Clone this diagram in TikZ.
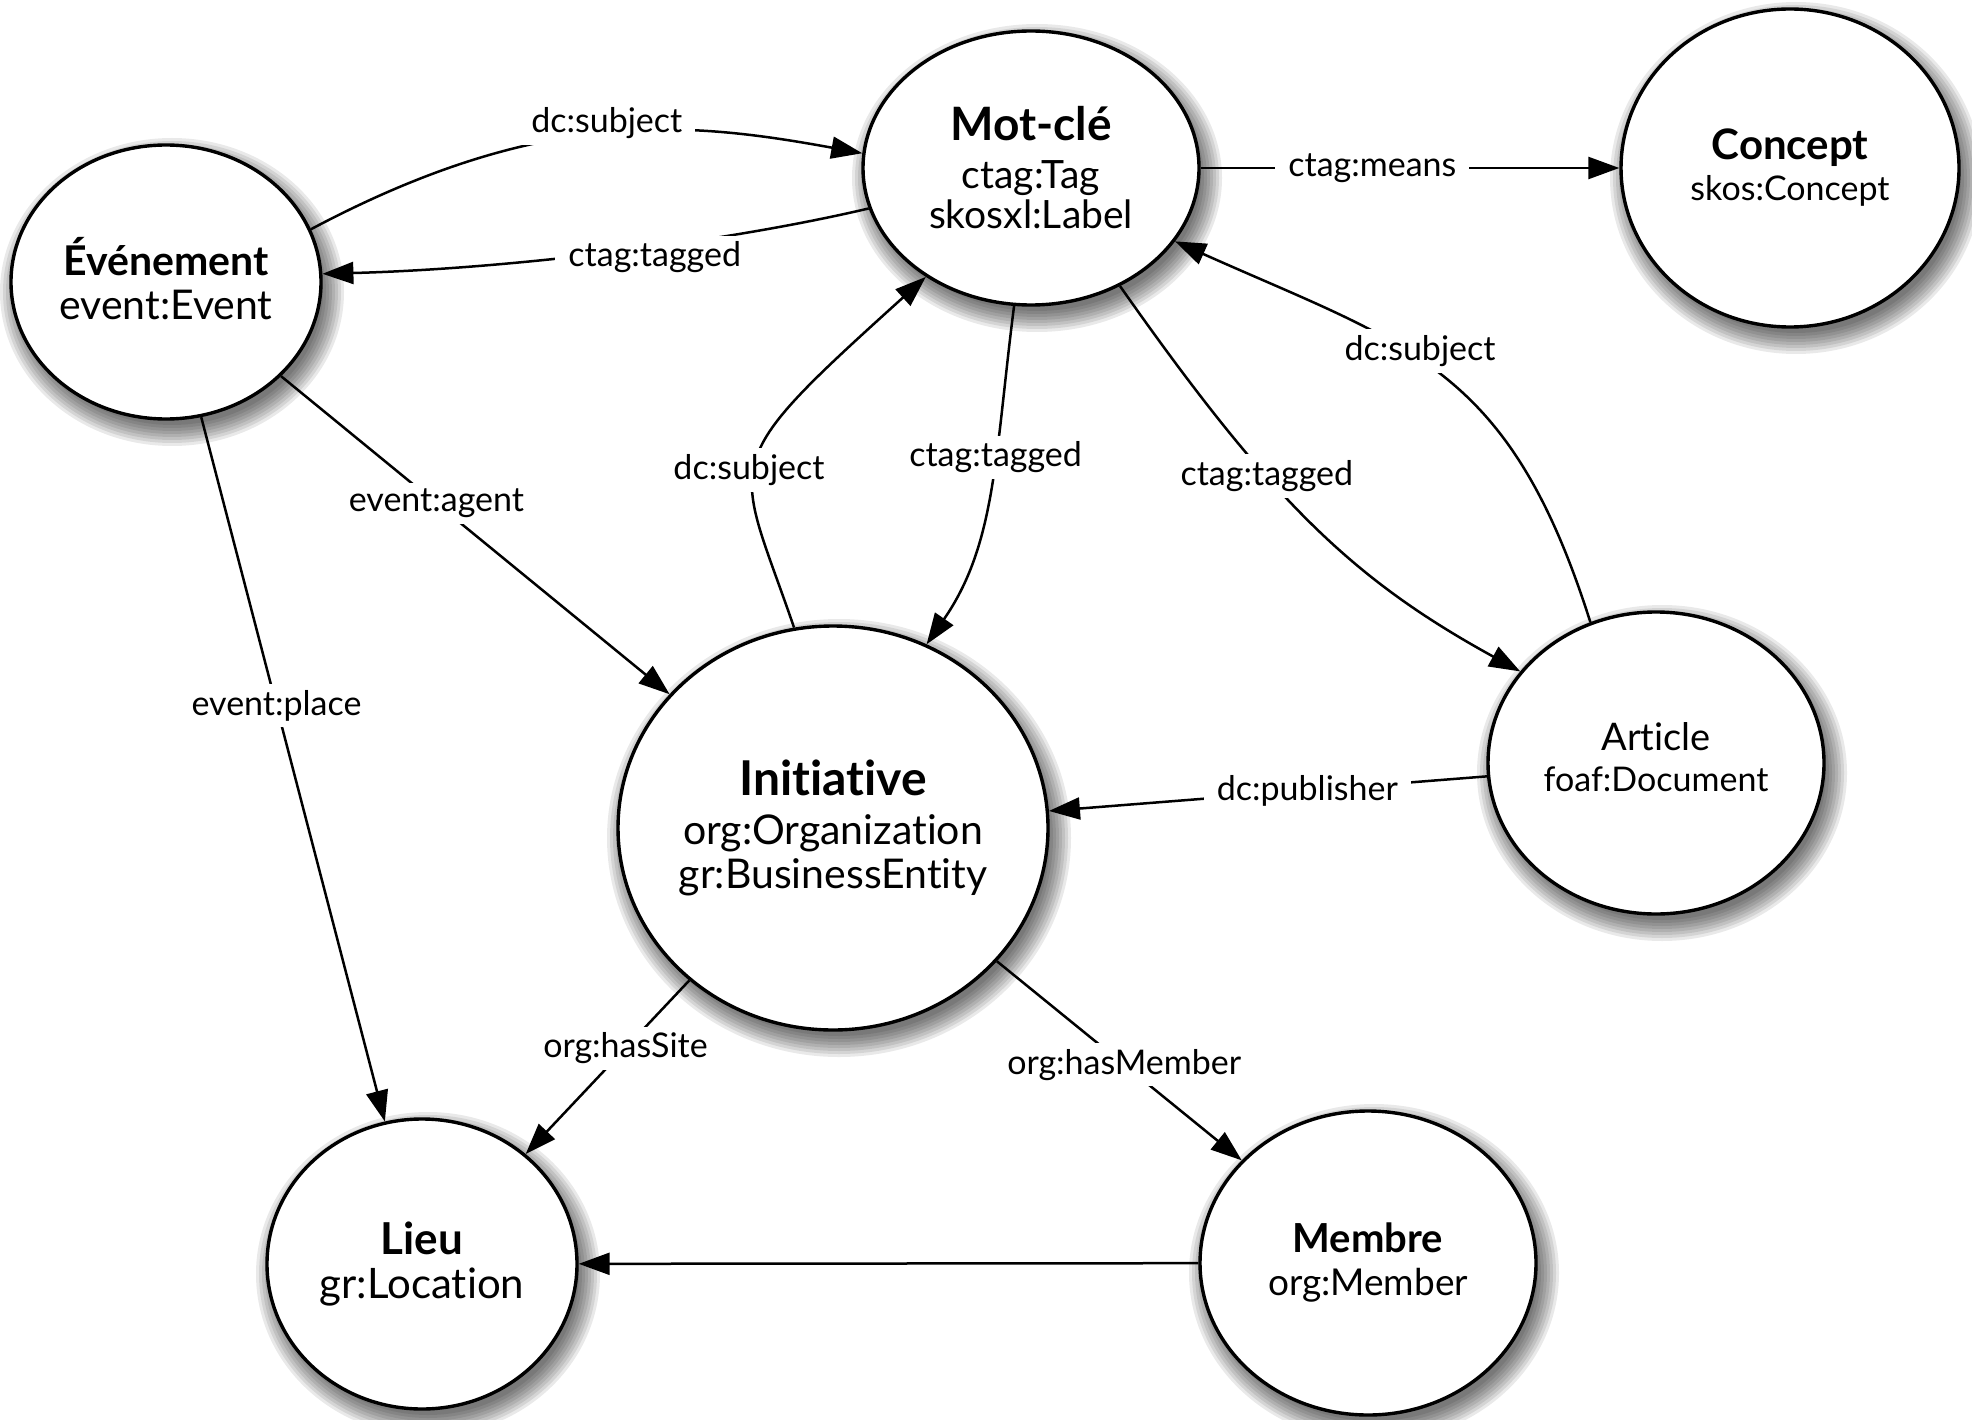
\documentclass[tikz,border=0pt]{standalone}
\usepackage{fontspec}
\setmainfont{Lato}[Ligatures=NoCommon]
\usetikzlibrary{arrows.meta,shapes.geometric}
\newcommand\softshadow[4]{%
  \foreach \d in {-4,-1,...,17}{\fill[black,opacity=0.085] (#1+6,#2+10) ellipse [x radius={(#3+\d)*1pt}, y radius={(#4+\d)*1pt}];}}
\begin{document}
\begin{tikzpicture}[x=1pt,y=-1pt,
  ent/.style={ellipse, draw, line width=3.4pt, fill=white, inner sep=-20pt, align=center},
  edge/.style={line width=2.5pt, -{Triangle[length=31pt,width=22pt]}},
  lbl/.style={fill=white, inner xsep=13pt, inner ysep=6pt, font=\fontsize{34}{40}\selectfont}]
\fill[white] (0,0) rectangle (1972,1420);
\useasboundingbox (0,0) rectangle (1972,1420);
% shadows
\softshadow{1031}{168}{168}{137}
\softshadow{1790}{168}{169}{159}
\softshadow{166}{282}{155}{137}
\softshadow{833}{828}{215}{202}
\softshadow{1656}{763}{168}{151}
\softshadow{422}{1264}{155}{145}
\softshadow{1368}{1263}{168}{152}
% nodes
\node[ent, minimum width=336pt, minimum height=274pt, font=\fontsize{39}{40}\selectfont] (mot) at (1031,168)
  {{\fontsize{46}{46}\selectfont\bfseries Mot-clé}\\[8pt]ctag:Tag\\skosxl:Label};
\node[ent, minimum width=338pt, minimum height=318pt, font=\fontsize{34}{41}\selectfont] (con) at (1790,168)
  {{\fontsize{42}{42}\selectfont\bfseries Concept}\\skos:Concept};
\node[ent, minimum width=310pt, minimum height=274pt, font=\fontsize{41}{44}\selectfont] (ev) at (166,282)
  {{\fontsize{41}{41}\selectfont\bfseries Événement}\\event:Event\rule[-8pt]{0pt}{8pt}};
\node[ent, minimum width=430pt, minimum height=404pt, font=\fontsize{41}{44}\selectfont] (ini) at (833,828)
  {{\fontsize{48}{48}\selectfont\bfseries Initiative}\\[5pt]org:Organization\\gr:BusinessEntity};
\node[ent, minimum width=336pt, minimum height=302pt, font=\fontsize{34}{40}\selectfont] (art) at (1656,763)
  {{\fontsize{38}{38}\selectfont Article}\\foaf:Document\rule[-12pt]{0pt}{12pt}};
\node[ent, minimum width=310pt, minimum height=290pt, font=\fontsize{42}{44}\selectfont] (lieu) at (422,1264)
  {{\fontsize{44}{44}\selectfont\bfseries Lieu}\\gr:Location};
\node[ent, minimum width=336pt, minimum height=304pt, font=\fontsize{37}{43}\selectfont] (mem) at (1368,1263)
  {{\fontsize{40}{40}\selectfont\bfseries Membre}\\org:Member};
% edges
\draw[edge] (ev.20) .. controls (541,107) and (686,121) .. node[lbl,pos=0.5,yshift=10pt]{dc:subject} (mot.175);
\draw[edge] (mot.194) .. controls (722,243) and (506,269) .. node[lbl,pos=0.42,yshift=-11pt]{ctag:tagged} (ev.3);
\draw[edge] (mot) -- node[lbl,pos=0.41]{ctag:means} (con);
\draw[edge] (ev) -- node[lbl,pos=0.4]{event:agent} (ini);
\draw[edge] (ev) -- node[lbl,pos=0.41]{event:place} (lieu);
\draw[edge] (ini.101) .. controls (735,455) and (712,470) .. node[lbl,pos=0.46,xshift=-6pt]{dc:subject} (mot.226);
\draw[edge] (mot.263) .. controls (995,455) and (996,544) .. node[lbl,pos=0.39]{ctag:tagged} (ini.63);
\draw[edge] (mot.307) .. controls (1271,501) and (1352,579) .. node[lbl,pos=0.37]{ctag:tagged} (art.146);
\draw[edge] (art.115) .. controls (1509,365) and (1409,346) .. node[lbl,pos=0.55,yshift=9pt]{dc:subject} (mot.333);
\draw[edge] (art) -- node[lbl,pos=0.41]{dc:publisher} (ini);
\draw[edge] (ini) -- node[lbl,pos=0.39]{org:hasSite} (lieu);
\draw[edge] (ini) -- node[lbl,pos=0.52]{org:hasMember} (mem);
\draw[edge] (mem) -- (lieu);
\end{tikzpicture}
\end{document}
